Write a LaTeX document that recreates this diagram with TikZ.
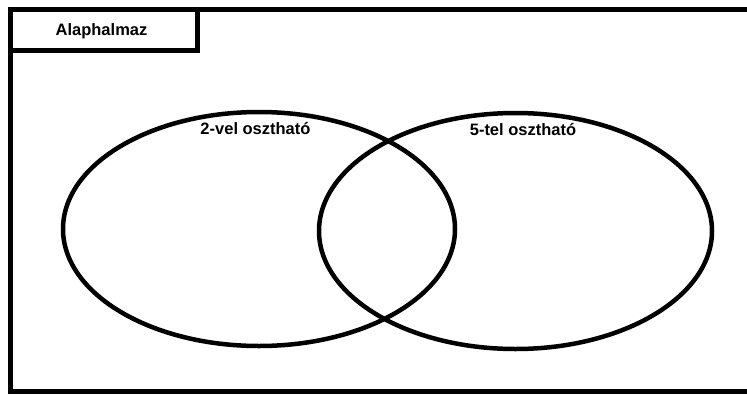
\documentclass[tikz,border=0pt]{standalone}
\usepackage{fontspec}
\setmainfont{Liberation Sans}
\usepackage{xcolor}
\usepackage{tikz}
\definecolor{ink}{HTML}{000000}
\newcommand{\Label}[3]{%
  \node[lbl] (#1) at (#2) {#3};
}

\begin{document}
\begin{tikzpicture}[x=1pt,y=-1pt,
  frame/.style={line width=5pt,color=ink},
  set/.style={line width=4.5pt,color=ink},
  lbl/.style={inner sep=0pt,font=\fontsize{16.5}{19}\selectfont\bfseries,color=ink}]
  \useasboundingbox (0,0) rectangle (747,394);
  \coordinate (A) at (259,229);
  \coordinate (B) at (515.5,231);

  % universe
  \draw[frame] (747,9.5) -| (10,391) -- (747,391);
  \draw[frame] (10,9.5) rectangle (197,50);
  \Label{univ}{101.5,31}{Alaphalmaz}

  % the two sets
  \draw[set] (A) ellipse [x radius=196, y radius=117];
  \draw[set] (B) ellipse [x radius=196.5, y radius=118];

  \Label{two}{255.5,129}{2-vel osztható}
  \Label{five}{523,130}{5-tel osztható}
\end{tikzpicture}
\end{document}
